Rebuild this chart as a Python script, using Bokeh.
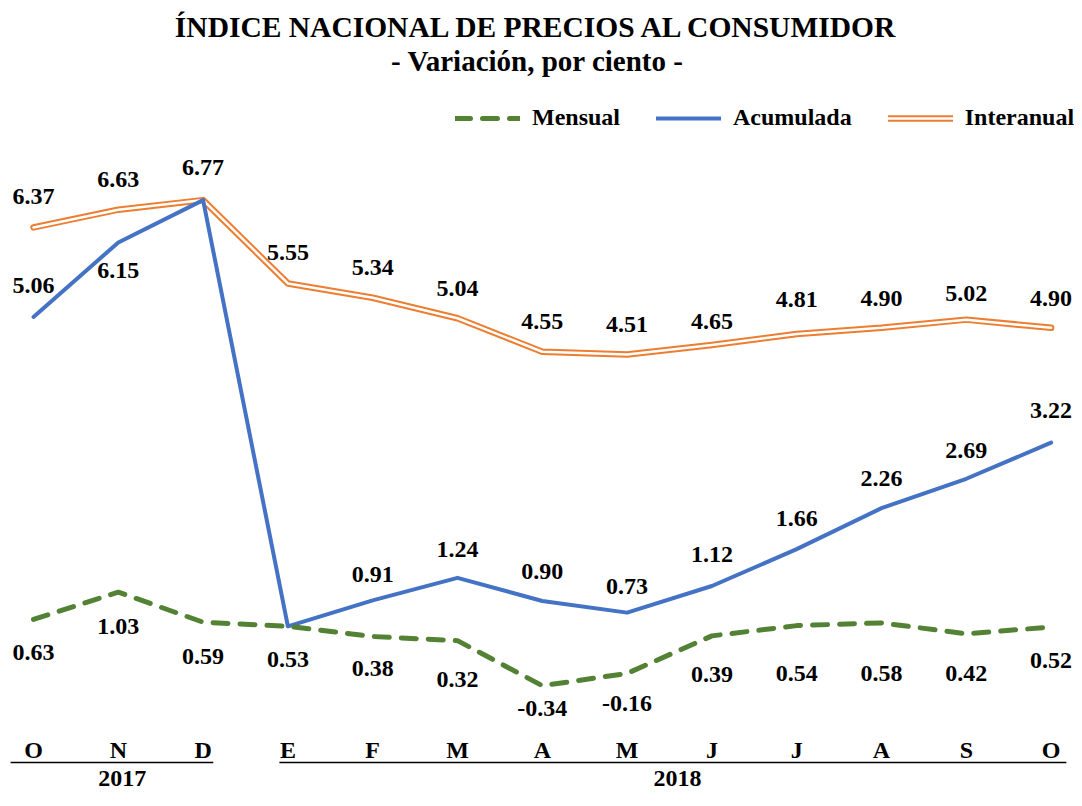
from bokeh.plotting import figure
from bokeh.models import Range1d, Title, Legend, LegendItem, ColumnDataSource
from bokeh.core.properties import value
from bokeh.embed import file_html
from bokeh.resources import INLINE

# ---------------- data ----------------
months = ["O", "N", "D", "E", "F", "M", "A", "M", "J", "J", "A", "S", "O"]
years = ["2017", "2018"]
year_first = [0, 3]      # index of first month of each year
year_last = [2, 12]      # index of last month of each year

mensual = [0.63, 1.03, 0.59, 0.53, 0.38, 0.32, -0.34, -0.16, 0.39, 0.54, 0.58, 0.42, 0.52]
acumulada = [5.06, 6.15, 6.77, 0.53, 0.91, 1.24, 0.90, 0.73, 1.12, 1.66, 2.26, 2.69, 3.22]
interanual = [6.37, 6.63, 6.77, 5.55, 5.34, 5.04, 4.55, 4.51, 4.65, 4.81, 4.90, 5.02, 4.90]

# which labels are shown (duplicates at D / E are shown only once)
show_acum = [True, True, False, False, True, True, True, True, True, True, True, True, True]

# label placement (screen px, + = down)
dy_mens = [33, 34, 34, 33, 32, 39, 23, 30, 39, 48, 51, 40, 34]
dy_acum = [-31, 28, 0, 0, -26, -28, -30, -26, -32, -31, -30, -28, -32]
dy_inter = [-31, -30, -33, -31, -30, -30, -30, -30, -23, -34, -29, -26, -29]
dx_year = [4, 8]

# ---------------- layout ----------------
W, H = 1074, 790
FRAME_TOP = 76                # frame top (figure px), titles sit above it
PX_PER_X = 84.8
X0 = 33                       # figure x of first month
PX_PER_Y = 68.3
Y0 = 662                      # figure y of value 0

x_start = -X0 / PX_PER_X
x_end = x_start + W / PX_PER_X
y_top = (Y0 - FRAME_TOP) / PX_PER_Y
y_bottom = -(H - Y0) / PX_PER_Y

def yv(py):
    return (Y0 - py) / PX_PER_Y

FONT = value("Liberation Serif")
FS = "24px"
GREEN = "#548235"
BLUE = "#4472C4"
ORANGE = "#ED7D31"

p = figure(width=W, height=H, output_backend="svg", toolbar_location=None,
           x_range=Range1d(x_start, x_end), y_range=Range1d(y_bottom, y_top),
           min_border_left=0, min_border_right=0, min_border_bottom=0,
           min_border_top=FRAME_TOP)
p.axis.visible = False
p.grid.visible = False
p.outline_line_color = None
p.background_fill_color = "white"
p.border_fill_color = "white"

p.title.text = "ÍNDICE NACIONAL DE PRECIOS AL CONSUMIDOR"
p.title.align = "center"
p.title.text_font = "Liberation Serif"
p.title.text_font_size = "29.5px"
p.title.text_font_style = "bold"
p.title.text_color = "black"
p.title.standoff = 0
sub = Title(text="- Variación, por ciento -", align="center",
            text_font="Liberation Serif", text_font_size="29px", text_font_style="bold",
            text_color="black", standoff=0)
p.add_layout(sub, "above")

x = list(range(len(months)))

# lines
r_inter_o = p.line(x, interanual, line_color=ORANGE, line_width=6.5, line_join="round", line_cap="round")
r_inter_w = p.line(x, interanual, line_color="white", line_width=2.5, line_join="round", line_cap="round")
r_acum = p.line(x, acumulada, line_color=BLUE, line_width=4, line_join="round", line_cap="round")
r_mens = p.line(x, mensual, line_color=GREEN, line_width=5, line_dash="15 12",
                line_join="round", line_cap="round")

# data labels
def labels(vals, dys, show=None):
    xs, ys, ts, ds = [], [], [], []
    for i, v in enumerate(vals):
        if show is not None and not show[i]:
            continue
        xs.append(i); ys.append(v); ts.append(f"{v:.2f}"); ds.append(dys[i])
    src = ColumnDataSource(dict(x=xs, y=ys, t=ts, dy=ds))
    p.text("x", "y", text="t", y_offset="dy", source=src, text_font=FONT,
           text_font_style="bold", text_font_size=FS, text_align="center",
           text_baseline="middle", text_color="black")

labels(interanual, dy_inter)
labels(acumulada, dy_acum, show_acum)
labels(mensual, dy_mens)

# month labels (category axis drawn inside frame)
p.text(x, [yv(749)] * len(x), text=months, text_font=FONT, text_font_style="bold",
       text_font_size=FS, text_align="center", text_baseline="middle", text_color="black")

# year brackets and labels
x0s = [year_first[0] - 0.27, year_first[1] - 0.1]
x1s = [year_last[0] + 0.12, year_last[1] + 0.18]
p.segment(x0s, [yv(762)] * 2, x1s, [yv(762)] * 2, line_color="black", line_width=1.5)
ysrc = ColumnDataSource(dict(x=[(f + l) / 2 for f, l in zip(year_first, year_last)],
                             y=[yv(778)] * 2, t=years, dx=dx_year))
p.text("x", "y", text="t", x_offset="dx", source=ysrc,
       text_font=FONT, text_font_style="bold", text_font_size=FS, text_align="center",
       text_baseline="middle", text_color="black")

# legend
legend = Legend(items=[
    LegendItem(label="Mensual", renderers=[r_mens]),
    LegendItem(label="Acumulada", renderers=[r_acum]),
    LegendItem(label="Interanual", renderers=[r_inter_o, r_inter_w]),
], orientation="horizontal", location=(455, H - 131), glyph_width=65, glyph_height=20,
    label_standoff=12, spacing=36, padding=0, margin=0, border_line_color=None,
    background_fill_alpha=0, label_text_font="Liberation Serif", label_text_font_style="bold",
    label_text_font_size=FS, label_text_color="black", label_height=20)
p.add_layout(legend, "center")

open("out.html", "w").write(file_html(p, INLINE))
